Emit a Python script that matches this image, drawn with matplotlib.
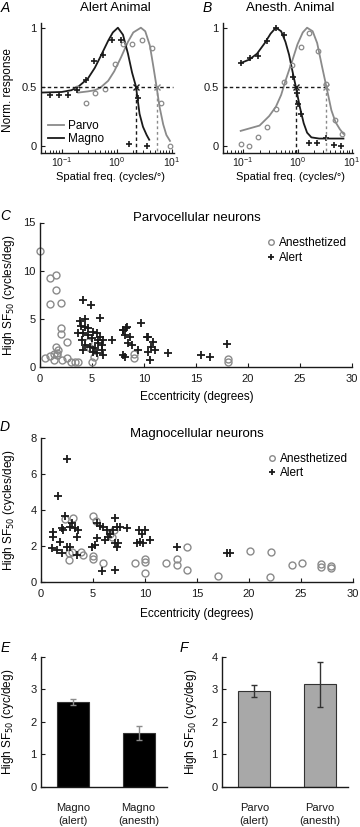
import numpy as np
import matplotlib
matplotlib.use('Agg')
from matplotlib import pyplot as plt

plt.rcParams['font.family'] = ['Liberation Sans', 'DejaVu Sans']
plt.rcParams['font.size'] = 8

GRAY = '#8a8a8a'
DARK = '#1a1a1a'

# Panel A - alert animal, tuning curves
a_magno_x = [0.06, 0.09, 0.128, 0.19, 0.277, 0.386, 0.57, 0.82, 1.2, 2.45, 1.7, 3.5]
a_magno_y = [0.43, 0.43, 0.43, 0.47, 0.556, 0.72, 0.77, 0.90, 0.90, 0.405, 0.01, 0.0]
a_magno_fit_x = [0.042, 0.1, 0.15, 0.2, 0.3, 0.4, 0.5, 0.7, 0.85, 1.05, 1.3, 1.6, 1.9, 2.24, 2.6, 3.0, 3.5, 3.9]
a_magno_fit_y = [0.45, 0.455, 0.47, 0.50, 0.57, 0.66, 0.75, 0.89, 0.96, 1.0, 0.94, 0.78, 0.62, 0.5, 0.27, 0.16, 0.09, 0.05]
a_parvo_x = [0.19, 0.277, 0.40, 0.61, 0.93, 1.31, 1.93, 2.84, 4.3, 6.3, 9.3]
a_parvo_y = [0.49, 0.36, 0.45, 0.48, 0.69, 0.86, 0.86, 0.90, 0.83, 0.36, 0.0]
a_parvo_fit_x = [0.2, 0.3, 0.4, 0.5, 0.7, 0.9, 1.2, 1.6, 2.0, 2.75, 3.3, 4.0, 4.6, 5.3, 6.0, 7.0, 8.0, 9.3]
a_parvo_fit_y = [0.45, 0.46, 0.47, 0.49, 0.55, 0.63, 0.75, 0.88, 0.96, 1.0, 0.97, 0.85, 0.68, 0.5, 0.33, 0.18, 0.09, 0.04]
a_sf50 = [2.24, 5.3]   # magno, parvo

# Panel B - anesthetized animal
b_magno_x = [0.09, 0.132, 0.19, 0.277, 0.40, 0.57, 0.81, 0.97, 1.0, 1.15, 1.63, 2.3, 3.4, 4.6, 6.2]
b_magno_y = [0.70, 0.74, 0.76, 0.885, 1.0, 0.94, 0.58, 0.45, 0.355, 0.27, 0.025, 0.02, 0.067, 0.005, 0.0]
b_magno_fit_x = [0.09, 0.13, 0.18, 0.25, 0.32, 0.4, 0.5, 0.6, 0.7, 0.8, 0.93, 1.1, 1.3, 1.5, 1.8, 2.5, 7.0]
b_magno_fit_y = [0.70, 0.73, 0.78, 0.87, 0.95, 1.0, 0.97, 0.88, 0.77, 0.64, 0.5, 0.33, 0.19, 0.11, 0.07, 0.06, 0.06]
b_parvo_x = [0.09, 0.13, 0.19, 0.277, 0.40, 0.57, 0.80, 1.15, 1.6, 2.37, 3.4, 4.8, 6.7]
b_parvo_y = [0.014, 0.0, 0.075, 0.16, 0.31, 0.54, 0.68, 0.835, 0.955, 0.80, 0.52, 0.215, 0.10]
b_parvo_fit_x = [0.09, 0.2, 0.3, 0.4, 0.5, 0.6, 0.8, 1.0, 1.25, 1.5, 1.9, 2.3, 2.8, 3.4, 4.2, 5.0, 6.0, 7.0]
b_parvo_fit_y = [0.125, 0.17, 0.25, 0.33, 0.43, 0.55, 0.72, 0.86, 0.96, 1.0, 0.97, 0.87, 0.68, 0.5, 0.3, 0.2, 0.14, 0.1]
b_sf50 = [0.93, 3.4]

# Panel C - parvocellular high SF50 vs eccentricity
c_anes_ecc = [0.0, 1.0, 1.5, 1.5, 1.0, 2.0, 2.0, 2.0, 2.6, 1.55, 1.75, 1.6, 1.3, 1.0, 0.5, 1.6, 2.1, 2.6,
              3.0, 3.4, 3.7, 4.6, 5.0, 5.2, 9.0, 9.0, 18.1, 18.1, 1.3, 4.8]
c_anes_sf = [12.0, 9.2, 9.55, 8.0, 6.5, 6.6, 4.0, 3.45, 2.55, 2.1, 1.8, 1.5, 1.3, 1.1, 0.9, 1.2, 0.7, 0.9,
             0.55, 0.55, 0.55, 2.6, 0.55, 1.0, 1.3, 0.9, 0.86, 0.5, 0.75, 2.0]
c_alert_ecc = [4.17, 4.9, 3.85, 4.3, 5.77, 3.9, 4.3, 4.6, 3.69, 4.17, 4.65, 5.13, 5.45, 5.77, 6.09, 6.89,
               4.0, 4.33, 4.81, 5.29, 5.61, 5.93, 5.93, 5.45, 6.09, 4.17, 5.13, 4.97, 5.61,
               8.01, 8.33, 8.17, 8.65, 8.49, 8.81, 8.01, 8.17, 9.71, 10.4, 10.9, 10.7, 11.06, 10.4,
               10.6, 12.3, 9.45, 15.45, 16.3, 17.95, 8.3, 8.0, 10.3]
c_alert_sf = [7.0, 6.4, 4.8, 5.0, 5.1, 4.3, 4.2, 4.1, 3.48, 3.55, 3.31, 3.66, 3.48, 3.14, 2.8, 2.8,
              2.8, 2.27, 2.1, 1.93, 2.45, 2.27, 1.76, 1.41, 1.24, 1.76, 1.6, 2.97, 2.8,
              3.83, 4.17, 3.31, 3.14, 2.45, 2.27, 1.24, 1.07, 4.52, 3.14, 2.62, 2.1, 1.76, 1.59,
              0.72, 1.5, 1.76, 1.27, 1.06, 2.38, 4.0, 3.8, 3.1]

# Panel D - magnocellular high SF50 vs eccentricity
d_anes_ecc = [3.08, 5.06, 5.3, 7.0, 6.85, 2.75, 3.05, 3.9, 4.1, 5.06, 5.06, 2.75, 6.03, 9.07, 10.0, 10.0,
              12.05, 13.1, 13.1, 14.1, 14.1, 20.1, 22.1, 24.1, 25.1, 26.9, 27.9, 26.9, 27.9, 6.7, 2.3,
              17.0, 22.0, 10.0]
d_anes_sf = [3.54, 3.65, 3.38, 2.9, 2.5, 1.6, 1.65, 1.68, 1.5, 1.45, 1.3, 1.22, 1.04, 1.04, 1.13, 1.3,
             1.07, 1.3, 0.93, 1.93, 0.67, 1.72, 1.69, 0.94, 1.04, 1.0, 0.9, 0.85, 0.8, 2.7, 3.5,
             0.35, 0.3, 0.5]
d_alert_ecc = [2.5, 1.7, 2.34, 2.98, 2.82, 3.3, 3.62, 3.52, 1.22, 1.22, 2.02, 2.18, 1.86, 1.05, 1.53,
               2.02, 2.5, 2.82, 4.9, 5.38, 5.7, 5.22, 5.38, 7.14, 6.02, 6.34, 6.66, 6.5, 6.98, 7.3,
               8.26, 7.62, 6.18, 7.14, 7.46, 7.3, 9.4, 9.7, 10.03, 9.23, 9.55, 9.87, 10.5, 13.1,
               17.9, 18.2, 7.1, 3.5, 5.9]
d_alert_sf = [6.83, 4.8, 3.68, 3.26, 3.07, 2.98, 2.89, 2.52, 2.76, 2.52, 2.98, 2.89, 2.24, 1.87, 1.78,
              1.59, 1.96, 1.96, 1.96, 3.28, 3.1, 2.08, 2.44, 3.54, 3.06, 2.89, 2.7, 2.52, 2.89, 3.06,
              2.98, 3.06, 2.33, 2.15, 2.15, 1.96, 2.89, 2.7, 2.89, 2.15, 2.24, 2.15, 2.33, 1.96,
              1.59, 1.59, 0.67, 1.5, 0.6]

# Panels E, F - mean high SF50
e_labels = ['Magno\n(alert)', 'Magno\n(anesth)']
e_means = [2.6, 1.65]
e_err = [0.1, 0.22]
f_labels = ['Parvo\n(alert)', 'Parvo\n(anesth)']
f_means = [2.95, 3.15]
f_err = [0.18, 0.7]

W, H = 360, 827
fig = plt.figure(figsize=(W / 100, H / 100), dpi=100)


def box(l, t, r, b):
    return [l / W, 1 - b / H, (r - l) / W, (b - t) / H]


def ftext(x, y, s, **kw):
    fig.text(x / W, 1 - y / H, s, ha=kw.pop('ha', 'center'), va=kw.pop('va', 'center'), **kw)


def style(ax):
    for s in ['top', 'right']:
        ax.spines[s].set_visible(False)
    for s in ['left', 'bottom']:
        ax.spines[s].set_linewidth(1.0)
        ax.spines[s].set_color(DARK)
    ax.tick_params(direction='in', length=3, width=0.8, labelsize=8, colors=DARK, pad=3)
    ax.tick_params(which='minor', direction='in', length=2, width=0.6)


def tuning(ax, mx, my, mfx, mfy, px, py, pfx, pfy, sf, hline_end):
    ax.plot(pfx, pfy, color=GRAY, lw=1.3, label='Parvo')
    ax.plot(mfx, mfy, color=DARK, lw=1.3, label='Magno')
    ax.plot(px, py, 'o', mfc='none', mec=GRAY, ms=3.3, mew=0.9)
    ax.plot(mx, my, '+', color=DARK, ms=4.5, mew=1.2)
    ax.plot([0.042, hline_end], [0.5, 0.5], ls=(0, (2.5, 2)), color=DARK, lw=1.0)
    ax.plot([sf[0], sf[0]], [0.5, -0.06], ls=(0, (2.5, 2)), color=DARK, lw=1.0)
    ax.plot([sf[1], sf[1]], [0.5, -0.06], ls=(0, (2, 2)), color=GRAY, lw=1.0)
    ax.plot([sf[0]], [0.5], 'x', color=DARK, ms=4)
    ax.plot([sf[1]], [0.5], 'x', color=GRAY, ms=4)
    ax.set_xscale('log')
    ax.set_xlim(0.042, 11)
    ax.set_ylim(-0.06, 1.04)
    ax.set_yticks([0, 0.5, 1])
    ax.set_yticklabels(['0', '0.5', '1'])
    ax.set_xticks([0.1, 1, 10])
    style(ax)
    ax.tick_params(axis='x', labelsize=7.5, pad=2)


axA = fig.add_axes(box(41, 23, 174, 152.7))
tuning(axA, a_magno_x, a_magno_y, a_magno_fit_x, a_magno_fit_y,
       a_parvo_x, a_parvo_y, a_parvo_fit_x, a_parvo_fit_y, a_sf50, 10.5)
axA.legend(loc='lower left', bbox_to_anchor=(0.02, 0.02), frameon=False, fontsize=8.5,
           handlelength=1.3, handletextpad=0.4, labelspacing=0.1, borderaxespad=0)

axB = fig.add_axes(box(222.7, 23, 353, 152.7))
tuning(axB, b_magno_x, b_magno_y, b_magno_fit_x, b_magno_fit_y,
       b_parvo_x, b_parvo_y, b_parvo_fit_x, b_parvo_fit_y, b_sf50, 3.4)
axB.set_xlim(0.042, 10.5)

ftext(115, 8, 'Alert Animal', fontsize=9.5)
ftext(290, 8, 'Anesth. Animal', fontsize=9.5)
ftext(5, 8, 'A', fontsize=10, style='italic')
ftext(207, 8, 'B', fontsize=10, style='italic')
ftext(110, 176.5, 'Spatial freq. (cycles/°)', fontsize=8)
ftext(291, 176.5, 'Spatial freq. (cycles/°)', fontsize=8)
ftext(8, 90, 'Norm. response', fontsize=8.5, rotation=90)


def ecc_panel(ax, ae, asf, le, lsf, ymax, yticks):
    ax.plot(ae, asf, 'o', mfc='none', mec=GRAY, ms=5, mew=1.0, label='Anesthetized', clip_on=False)
    ax.plot(le, lsf, '+', color=DARK, ms=6, mew=1.3, label='Alert', clip_on=False)
    ax.set_xlim(0, 30)
    ax.set_ylim(0, ymax)
    ax.set_xticks(range(0, 31, 5))
    ax.set_yticks(yticks)
    style(ax)
    ax.tick_params(axis='x', pad=5)
    ax.legend(loc='upper right', bbox_to_anchor=(1.0, 0.93), frameon=False, fontsize=8.5,
              handlelength=0.8, handletextpad=0.3, labelspacing=0.2, borderaxespad=0,
              markerscale=0.8)


axC = fig.add_axes(box(40, 222.5, 352, 367))
ecc_panel(axC, c_anes_ecc, c_anes_sf, c_alert_ecc, c_alert_sf, 15, [0, 5, 10, 15])
ftext(197, 218, 'Parvocellular neurons', fontsize=9.5)
ftext(5, 216, 'C', fontsize=10, style='italic')
ftext(197, 397, 'Eccentricity (degrees)', fontsize=8.5)
ftext(9, 295, 'High SF$_{50}$ (cycles/deg)', fontsize=8.5, rotation=90)

axD = fig.add_axes(box(40.7, 438.3, 353, 582))
ecc_panel(axD, d_anes_ecc, d_anes_sf, d_alert_ecc, d_alert_sf, 8, [0, 2, 4, 6, 8])
ftext(197, 434, 'Magnocellular neurons', fontsize=9.5)
ftext(5, 427, 'D', fontsize=10, style='italic')
ftext(197, 614, 'Eccentricity (degrees)', fontsize=8.5)
ftext(9, 510, 'High SF$_{50}$ (cycles/deg)', fontsize=8.5, rotation=90)


def bar_panel(ax, labels, means, err, color, ecolor):
    pos = np.arange(len(means))
    ax.bar(pos, means, width=0.49, color=color, edgecolor='#333333', linewidth=0.8)
    ax.errorbar(pos, means, yerr=err, fmt='none', ecolor=ecolor, elinewidth=1.0,
                capsize=2.5, capthick=1.0)
    ax.set_xlim(-0.5, 1.43)
    ax.set_ylim(0, 4)
    ax.set_yticks([0, 1, 2, 3, 4])
    ax.set_xticks(pos)
    ax.set_xticklabels(labels, fontsize=8.5, linespacing=1.3)
    style(ax)
    ax.tick_params(axis='x', length=0, pad=12)


axE = fig.add_axes(box(40.7, 656.7, 166.7, 786.7))
bar_panel(axE, e_labels, e_means, e_err, 'black', '#8c8c8c')
axF = fig.add_axes(box(221.7, 656.7, 348, 786.7))
bar_panel(axF, f_labels, f_means, f_err, '#a8a8a8', '#333333')
ftext(5, 648, 'E', fontsize=10, style='italic')
ftext(184, 648, 'F', fontsize=10, style='italic')
ftext(8, 722, 'High SF$_{50}$ (cyc/deg)', fontsize=8.5, rotation=90)
ftext(191, 722, 'High SF$_{50}$ (cyc/deg)', fontsize=8.5, rotation=90)

fig.savefig('out.png', dpi=100)
